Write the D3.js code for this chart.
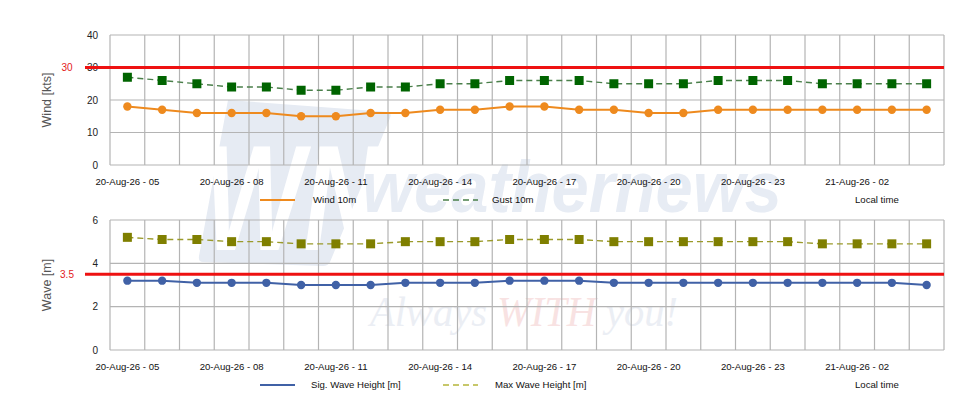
<!DOCTYPE html>
<html>
<head>
<meta charset="utf-8">
<script src="https://cdn.jsdelivr.net/npm/d3@7"></script>
<style>
  body { margin: 0; background: #fff; }
  svg { display: block; font-family: "Liberation Sans", Arial, sans-serif; }
</style>
</head>
<body>
<div class="content"></div>
<script>
/************** Data *****************/
const hours = ["20-Aug-26 - 05","20-Aug-26 - 06","20-Aug-26 - 07","20-Aug-26 - 08","20-Aug-26 - 09","20-Aug-26 - 10",
               "20-Aug-26 - 11","20-Aug-26 - 12","20-Aug-26 - 13","20-Aug-26 - 14","20-Aug-26 - 15","20-Aug-26 - 16",
               "20-Aug-26 - 17","20-Aug-26 - 18","20-Aug-26 - 19","20-Aug-26 - 20","20-Aug-26 - 21","20-Aug-26 - 22",
               "20-Aug-26 - 23","21-Aug-26 - 00","21-Aug-26 - 01","21-Aug-26 - 02","21-Aug-26 - 03","21-Aug-26 - 04"];
const tickLabels = ["20-Aug-26 - 05","20-Aug-26 - 08","20-Aug-26 - 11","20-Aug-26 - 14",
                    "20-Aug-26 - 17","20-Aug-26 - 20","20-Aug-26 - 23","21-Aug-26 - 02"];
const wind10m = [18,17,16,16,16,15,15,16,16,17,17,18,18,17,17,16,16,17,17,17,17,17,17,17];
const gust10m = [27,26,25,24,24,23,23,24,24,25,25,26,26,26,25,25,25,26,26,26,25,25,25,25];
const sigWave = [3.2,3.2,3.1,3.1,3.1,3.0,3.0,3.0,3.1,3.1,3.1,3.2,3.2,3.2,3.1,3.1,3.1,3.1,3.1,3.1,3.1,3.1,3.1,3.0];
const maxWave = [5.2,5.1,5.1,5.0,5.0,4.9,4.9,4.9,5.0,5.0,5.0,5.1,5.1,5.1,5.0,5.0,5.0,5.0,5.0,5.0,4.9,4.9,4.9,4.9];
const windTicks = [0,10,20,30,40];
const waveTicks = [0,2,4,6];
const windLimit = 30, waveLimit = 3.5;
/************** End of Data *****************/

// Canvas parameters
const WIDTH = 980, HEIGHT = 420;
const PLOT_LEFT = 110, PLOT_RIGHT = 944;
const GRID = "#b4b4b4";

const svg = d3.select(".content").append("svg")
  .attr("width", WIDTH)
  .attr("height", HEIGHT);

const x = d3.scaleBand().domain(hours).range([PLOT_LEFT, PLOT_RIGHT]);
const cx = d => x(d) + x.bandwidth() / 2;

// watermark behind everything
function drawWatermark() {
  const wm = svg.append("g").attr("class", "watermark");
  wm.append("path")
    .attr("d", "M228,100 L388,112 Q392,113 390,118 L330,262 Q328,266 323,266 L203,262 Q198,262 199,256 Z")
    .attr("fill", "#e6ebf3");
  wm.append("text")
    .attr("x", 292).attr("y", 250)
    .attr("text-anchor", "middle")
    .attr("font-size", 150).attr("font-weight", "bold").attr("font-style", "italic")
    .attr("fill", "#ffffff")
    .attr("textLength", 175).attr("lengthAdjust", "spacingAndGlyphs")
    .text("WN");
  wm.append("text")
    .attr("x", 362).attr("y", 212)
    .attr("font-size", 72).attr("font-weight", "bold").attr("font-style", "italic")
    .attr("fill", "#e7ecf4")
    .attr("textLength", 420).attr("lengthAdjust", "spacingAndGlyphs")
    .text("weathernews");
  const t = wm.append("text")
    .attr("x", 370).attr("y", 326)
    .attr("font-family", "'Liberation Serif', 'DejaVu Serif', serif")
    .attr("font-size", 42).attr("font-style", "italic")
    .attr("textLength", 308).attr("lengthAdjust", "spacingAndGlyphs")
    .attr("fill", "#ebeef4");
  t.append("tspan").text("Always ");
  t.append("tspan").attr("fill", "#f8e2e2").text("WITH");
  t.append("tspan").text(" you!");
}

function drawPanel(opt) {
  const y = d3.scaleLinear().domain(opt.domain).range([opt.bottom, opt.top]);
  const g = svg.append("g").attr("class", "panel");

  // horizontal grid
  g.selectAll("line.hgrid").data(opt.ticks).join("line")
    .attr("x1", PLOT_LEFT).attr("x2", PLOT_RIGHT)
    .attr("y1", d => y(d)).attr("y2", d => y(d))
    .attr("stroke", GRID).attr("stroke-width", 1.2);
  // vertical grid, every hour
  const edges = hours.map(h => x(h)).concat([PLOT_RIGHT]);
  g.selectAll("line.vgrid").data(edges).join("line")
    .attr("x1", d => d).attr("x2", d => d)
    .attr("y1", opt.top).attr("y2", opt.bottom)
    .attr("stroke", GRID).attr("stroke-width", 1.2);

  // y axis labels
  const yAxis = d3.axisLeft(y).tickValues(opt.ticks).tickFormat(d3.format("d"))
    .tickSize(0).tickPadding(12);
  const ya = g.append("g").attr("transform", "translate(" + PLOT_LEFT + ",0)").call(yAxis);
  ya.select(".domain").remove();
  ya.selectAll("text").attr("font-size", 10).attr("fill", "#222").attr("font-family", null);

  // x axis labels
  const xAxis = d3.axisBottom(x).tickValues(tickLabels).tickSize(0).tickPadding(13);
  const xa = g.append("g").attr("transform", "translate(0," + opt.bottom + ")").call(xAxis);
  xa.select(".domain").remove();
  xa.selectAll("text").attr("font-size", 9.6).attr("fill", "#111").attr("font-family", null);

  // axis title
  g.append("text")
    .attr("transform", "translate(51," + (opt.top + opt.bottom) / 2 + ") rotate(-90)")
    .attr("text-anchor", "middle")
    .attr("font-size", 12.5).attr("fill", "#555")
    .text(opt.title);

  // limit line
  g.append("line")
    .attr("x1", 85).attr("x2", PLOT_RIGHT)
    .attr("y1", y(opt.limit)).attr("y2", y(opt.limit))
    .attr("stroke", "#ee1111").attr("stroke-width", 3);
  g.append("text")
    .attr("x", 67).attr("y", y(opt.limit)).attr("dy", "0.35em")
    .attr("text-anchor", "middle")
    .attr("font-size", 10).attr("fill", "#e31a1a")
    .text(opt.limit);

  // dashed series with squares
  const line = d3.line().x((d, i) => cx(hours[i])).y(d => y(d));
  g.append("path").datum(opt.dashed)
    .attr("d", line).attr("fill", "none")
    .attr("stroke", opt.dashLine).attr("stroke-width", 1.4)
    .attr("stroke-dasharray", "6,4");
  g.selectAll("rect.mk").data(opt.dashed).join("rect")
    .attr("x", (d, i) => cx(hours[i]) - 4.5).attr("y", d => y(d) - 4.5)
    .attr("width", 9).attr("height", 9)
    .attr("fill", opt.dashMark);

  // solid series with circles
  g.append("path").datum(opt.solid)
    .attr("d", line).attr("fill", "none")
    .attr("stroke", opt.solidColor).attr("stroke-width", 2);
  g.selectAll("circle.mk").data(opt.solid).join("circle")
    .attr("cx", (d, i) => cx(hours[i])).attr("cy", d => y(d))
    .attr("r", 4.2)
    .attr("fill", opt.solidColor);

  // legend
  const ly = opt.legendY;
  g.append("line").attr("x1", 260).attr("x2", 295).attr("y1", ly).attr("y2", ly)
    .attr("stroke", opt.solidColor).attr("stroke-width", 2);
  g.append("text").attr("x", opt.solidTextX).attr("y", ly).attr("dy", "0.35em")
    .attr("font-size", 9.6).attr("fill", "#111").text(opt.solidName);
  g.append("line").attr("x1", 443).attr("x2", 478).attr("y1", ly).attr("y2", ly)
    .attr("stroke", opt.legendDash).attr("stroke-width", 1.4).attr("stroke-dasharray", "6,4");
  g.append("text").attr("x", opt.dashTextX).attr("y", ly).attr("dy", "0.35em")
    .attr("font-size", 9.6).attr("fill", "#111").text(opt.dashName);
  g.append("text").attr("x", 855).attr("y", ly).attr("dy", "0.35em")
    .attr("font-size", 9.6).attr("fill", "#111").text("Local time");
}

drawWatermark();

drawPanel({
  top: 35, bottom: 165, domain: [0, 40], ticks: windTicks,
  title: "Wind [kts]", limit: windLimit,
  solid: wind10m, solidColor: "#ee8a1e", solidName: "Wind 10m", solidTextX: 313,
  dashed: gust10m, dashMark: "#006400", dashLine: "#4a7f4a", legendDash: "#4a7f4a",
  dashName: "Gust 10m", dashTextX: 492,
  legendY: 200
});

drawPanel({
  top: 220, bottom: 350, domain: [0, 6], ticks: waveTicks,
  title: "Wave [m]", limit: waveLimit,
  solid: sigWave, solidColor: "#4061a6", solidName: "Sig. Wave Height [m]", solidTextX: 311,
  dashed: maxWave, dashMark: "#7f7f00", dashLine: "#9a9a2a", legendDash: "#b5b53a",
  dashName: "Max Wave Height [m]", dashTextX: 495,
  legendY: 385
});
</script>
</body>
</html>
